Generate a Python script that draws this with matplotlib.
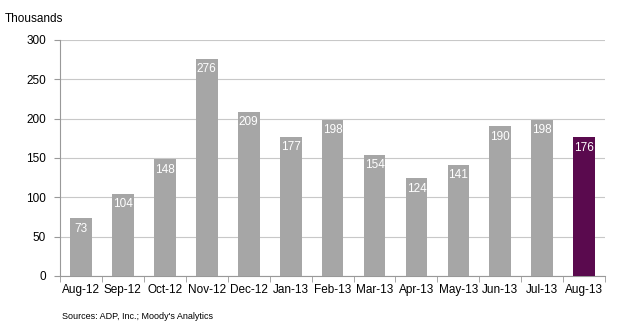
import numpy as np
import matplotlib.pyplot as plt

plt.rcParams['font.family'] = ['Liberation Sans', 'DejaVu Sans']

# Datos: empleo privado ADP, variación mensual (miles)
months = ['Aug-12', 'Sep-12', 'Oct-12', 'Nov-12', 'Dec-12', 'Jan-13', 'Feb-13',
          'Mar-13', 'Apr-13', 'May-13', 'Jun-13', 'Jul-13', 'Aug-13']
values = [73, 104, 148, 276, 209, 177, 198, 154, 124, 141, 190, 198, 176]

gray = '#A6A6A6'
purple = '#5A0A4E'
colors = [gray] * (len(values) - 1) + [purple]

fig = plt.figure(figsize=(6.17, 3.30), dpi=100)
ax = fig.add_axes([0.097, 0.164, 0.884, 0.715])

x = np.arange(len(months))
bars = ax.bar(x, values, width=0.52, color=colors, zorder=3)

for xi, v in zip(x, values):
    ax.text(xi, v - 5.5, str(v), ha='center', va='top', color='white',
            fontsize=8.5, zorder=4)

ax.set_xlim(-0.5, len(months) - 0.5)
ax.set_ylim(0, 300)
ax.set_yticks(np.arange(0, 301, 50))
ax.yaxis.grid(True, color='#C8C8C8', linewidth=0.8, zorder=0)

ax.set_xticks(x)
ax.set_xticklabels(months, fontsize=8.5)
ax.set_xticks(np.arange(-0.5, len(months), 1), minor=True)
ax.tick_params(axis='x', which='major', length=0, pad=6)
ax.tick_params(axis='x', which='minor', length=4, color='#999999')
ax.tick_params(axis='y', length=4, color='#999999', labelsize=8.5, pad=6)

for s in ['top', 'right']:
    ax.spines[s].set_visible(False)
for s in ['left', 'bottom']:
    ax.spines[s].set_color('#999999')
    ax.spines[s].set_linewidth(0.8)

fig.text(0.008, 0.942, 'Thousands', fontsize=8.5, ha='left', va='center')
fig.text(0.100, 0.042, "Sources: ADP, Inc.; Moody's Analytics", fontsize=6.5,
         ha='left', va='center')

fig.savefig('out.png', dpi=100)
